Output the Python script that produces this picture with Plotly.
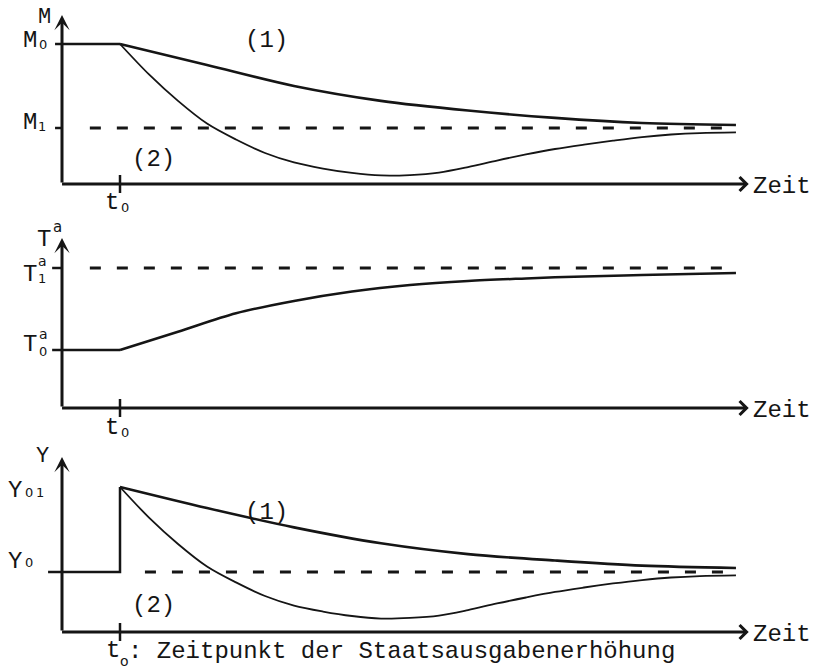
import plotly.graph_objects as go

W, H = 821, 669
FONT = "Liberation Mono, DejaVu Sans Mono, monospace"
SUBFONT = "DejaVu Sans, Liberation Sans, sans-serif"
INK = "#151515"

# ---------------------------------------------------------------- data
t_shock = 1.0      # t0: moment of the increase in government spending
t_end = 11.62      # adjustment paths are drawn out to here
t_tip = 11.84      # tip of the time arrow

# money stock M
m0, m1 = 100.0, 60.0
m_time1 = [1, 2.5, 4, 5.5, 7, 8.5, 10, 11.62]
m_path1 = [100, 90.0, 80.0, 72.9, 68.3, 64.8, 62.4, 61.4]
m_time2 = [1, 1.5, 2, 2.5, 3, 3.5, 4, 4.5, 5, 5.5, 6, 6.5, 7, 7.5, 8, 8.5,
           9, 9.5, 10, 10.5, 11, 11.62]
m_path2 = [100, 85.5, 72.9, 62.1, 54.5, 48.1, 43.6, 40.7, 38.6, 37.4, 37.6,
           38.8, 41.4, 44.5, 47.4, 50.0, 52.1, 54.0, 55.7, 56.9, 57.6, 57.9]

# tax revenue T^a
ta0, ta1 = 100.0, 140.0
ta_time = [1, 2, 3, 4, 5, 6, 7, 8, 9, 10, 11.62]
ta_path = [100, 108.9, 117.9, 123.9, 128.5, 131.7, 133.7, 134.9, 135.9,
           136.6, 137.6]

# income Y
y0, y01 = 100.0, 140.0
y_time1 = [1, 2.5, 4, 5.5, 7, 8.5, 10, 11.62]
y_path1 = [140, 130.1, 121.0, 113.5, 108.4, 105.4, 103.0, 101.9]
y_time2 = [1, 1.5, 2, 2.5, 3, 3.5, 4, 4.5, 5, 5.5, 6, 6.5, 7, 7.5, 8, 8.5,
           9, 9.5, 10, 10.5, 11, 11.62]
y_path2 = [140, 125.6, 113.2, 102.6, 95.1, 88.7, 84.2, 81.4, 79.3, 78.1,
           78.4, 79.5, 82.1, 85.2, 88.0, 90.6, 92.7, 94.6, 96.2, 97.4, 98.1,
           98.4]

# ------------------------------------------------------------- layout
# horizontal scale: origin of the time axis and pixels per time unit
X_ORIGIN, X_PPU = 62, 58
X_RANGE = [(0 - X_ORIGIN) / X_PPU, (W - X_ORIGIN) / X_PPU]

# each panel: a reference level and where it sits, its vertical scale,
# the pixel band of the panel, the time-axis line and the arrow tip
panels = [
    dict(ref=m0, ref_px=44, ppu=2.1, top=0, bot=215, base=184, tip=15),
    dict(ref=ta0, ref_px=350, ppu=2.05, top=215, bot=445, base=408, tip=238),
    dict(ref=y0, ref_px=572, ppu=2.125, top=445, bot=669, base=632, tip=457),
]


def yval(p, py):
    return p["ref"] + (p["ref_px"] - py) / p["ppu"]


def sfx(i):
    return "" if i == 1 else str(i)


fig = go.Figure()
for i, p in enumerate(panels, start=1):
    s = sfx(i)
    fig.update_layout(**{
        f"xaxis{s}": dict(domain=[0, 1], range=X_RANGE, visible=False,
                          anchor=f"y{s}", fixedrange=True),
        f"yaxis{s}": dict(domain=[1 - p["bot"] / H, 1 - p["top"] / H],
                          range=[yval(p, p["bot"]), yval(p, p["top"])],
                          visible=False, anchor=f"x{s}", fixedrange=True),
    })


def line(i, x, y, width=2.5, dash=None, shape="linear"):
    s = sfx(i)
    fig.add_trace(go.Scatter(
        x=x, y=y, mode="lines", xaxis=f"x{s}", yaxis=f"y{s}",
        line=dict(color=INK, width=width, dash=dash, shape=shape,
                  smoothing=0.9 if shape == "spline" else None),
        hoverinfo="skip", showlegend=False))


def axes(i, p):
    s = sfx(i)
    base, tip = yval(p, p["base"]), yval(p, p["tip"])
    refs = dict(xref=f"x{s}", yref=f"y{s}", axref=f"x{s}", ayref=f"y{s}",
                text="", showarrow=True, arrowcolor=INK, arrowwidth=3)
    fig.add_annotation(x=0, y=tip, ax=0, ay=base, arrowhead=3,
                       arrowsize=0.85, **refs)
    fig.add_annotation(x=t_tip, y=base, ax=-0.025, ay=base, arrowhead=4,
                       arrowsize=0.9, **refs)
    # tick at t0
    half = 9 / p["ppu"]
    line(i, [t_shock, t_shock], [base + half, base - half], width=2.5)


def text(s, px, py, size=24, xanchor="center", family=FONT):
    fig.add_annotation(x=px / W, y=1 - py / H, xref="paper", yref="paper",
                       text=s, showarrow=False, xanchor=xanchor,
                       yanchor="middle", borderpad=0,
                       font=dict(family=family, size=size, color=INK))


def small(s, px, py, size=13):
    text(s, px, py, size, family=SUBFONT)


DASH = "11px,16px"
LEFT_TICK = -0.12

# ---- panel 1: M
p = panels[0]
axes(1, p)
line(1, [LEFT_TICK, t_shock], [m0, m0])
line(1, [LEFT_TICK, 0], [m1, m1])
line(1, [0.48, t_end], [m1, m1], width=3, dash=DASH)
line(1, m_time1, m_path1, width=2.6, shape="spline")
line(1, m_time2, m_path2, width=1.8, shape="spline")

# ---- panel 2: T^a
p = panels[1]
axes(2, p)
line(2, [-0.17, t_shock], [ta0, ta0])
line(2, ta_time, ta_path, width=2.5, shape="spline")
line(2, [-0.17, 0], [ta1, ta1])
line(2, [0.48, t_end], [ta1, ta1], width=3, dash=DASH)

# ---- panel 3: Y
p = panels[2]
axes(3, p)
line(3, [-0.24, t_shock, t_shock], [y0, y0, y01])
line(3, [1.43, t_end], [y0, y0], width=3, dash=DASH)
line(3, y_time1, y_path1, width=2.6, shape="spline")
line(3, y_time2, y_path2, width=1.8, shape="spline")

# ---- labels
# M panel
text("M", 44, 18, 22)
text("M", 30, 40)
small("0", 42.5, 44)
text("M", 30, 122.5)
small("1", 42, 126.5)
text("(1)", 266, 40)
text("(2)", 153, 159)
text("t", 112, 202)
small("0", 125, 207)
text("Zeit", 752, 186, xanchor="left")

# T^a panel
text("T", 44, 240)
small("a", 57, 227, 15)
text("T", 30, 274.5)
small("a", 42.5, 261, 14)
small("1", 42, 278.5)
text("T", 30, 344.5)
small("a", 43, 334, 14)
small("0", 43, 351)
text("t", 112, 427)
small("0", 125, 432)
text("Zeit", 752, 410, xanchor="left")

# Y panel
text("Y", 42, 456, 22)
text("Y", 15, 490)
small("0", 29, 492)
small("1", 40, 492.5)
text("Y", 15, 561)
small("0", 29, 562.5)
text("(1)", 266, 512)
text("(2)", 153, 605)
text("Zeit", 752, 634, xanchor="left")

# caption
text("t", 112.5, 650)
small("o", 124, 661, 14)
text(": Zeitpunkt der Staatsausgabenerhöhung", 127, 651, xanchor="left")

fig.update_layout(width=W, height=H, margin=dict(l=0, r=0, t=0, b=0),
                  paper_bgcolor="white", plot_bgcolor="white",
                  showlegend=False)

fig.write_html("out.html")
